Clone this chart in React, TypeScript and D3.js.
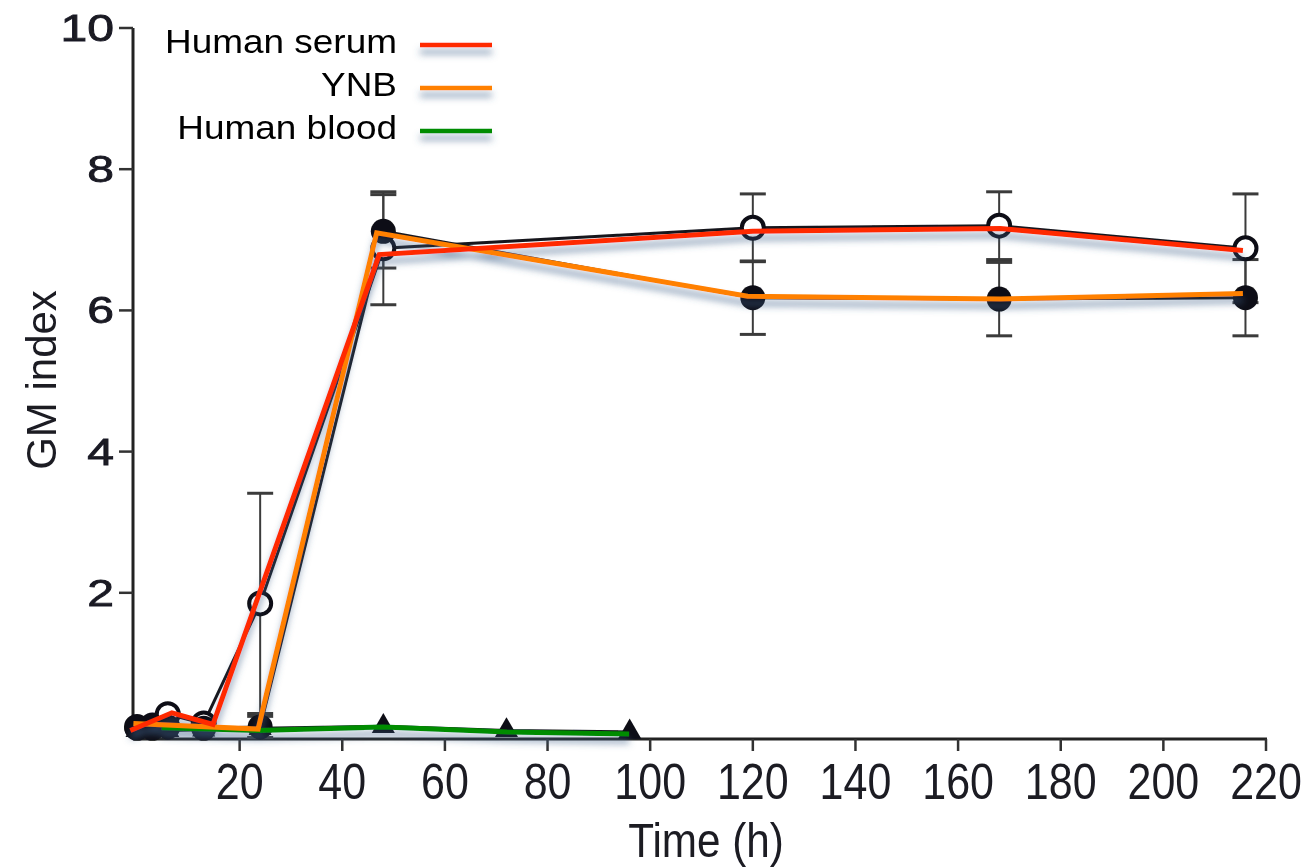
import * as d3 from 'd3'
import { useEffect, useRef } from 'react'

// original black series (markers + error bars)
const serumTime = [0, 3, 6, 13, 24, 48, 120, 168, 216]
const serumMean = [0.1, 0.12, 0.28, 0.15, 1.85, 6.88, 7.17, 7.2, 6.88]
const serumErr = [0, 0, 0, 0, 1.56, 0.8, 0.48, 0.48, 0.77]

const ynbTime = [0, 3, 6, 13, 24, 48, 120, 168, 216]
const ynbMean = [0.08, 0.08, 0.1, 0.08, 0.1, 7.12, 6.18, 6.16, 6.18]
const ynbErr = [0, 0, 0, 0, 0.15, 0.52, 0.52, 0.52, 0.54]

const bloodTime = [0, 3, 6, 13, 24, 48, 72, 96]
const bloodMean = [0.05, 0.05, 0.05, 0.06, 0.08, 0.11, 0.05, 0.03]

// coloured overlay lines
const redTime = [-1.3, 6.8, 14.8, 47.2, 120, 168.2, 215.5]
const redVal = [0.05, 0.3, 0.135, 6.79, 7.12, 7.16, 6.85]
const orangeTime = [-0.7, 23.6, 46.7, 119, 168.2, 215.5]
const orangeVal = [0.15, 0.07, 7.1, 6.2, 6.16, 6.24]
const greenTime = [4.8, 23.6, 48, 72.1, 95.9]
const greenVal = [0.09, 0.05, 0.1, 0.03, 0.0]

const xTicks = [20, 40, 60, 80, 100, 120, 140, 160, 180, 200, 220]
const yTicks = [2, 4, 6, 8, 10]

const legendNames = ['Human serum', 'YNB', 'Human blood']
const legendColors = ['#ff2a00', '#ff8000', '#008c00']

const FONT = 'Liberation Sans, Arial, Helvetica, sans-serif'

export default function App() {
    const svgRef = useRef<SVGSVGElement>(null)

    useEffect(() => {
        const w = 1312
        const h = 868
        const svg = d3.select(svgRef.current)
        svg.selectAll('*').remove()
        svg.attr('width', w).attr('height', h).style('background', '#fff')

        const x = d3.scaleLinear().domain([0, 220]).range([137, 1266])
        const y = d3.scaleLinear().domain([0, 10]).range([734, 28])
        const axisX = 133
        const axisY = 739

        const defs = svg.append('defs')
        const sh = defs.append('filter').attr('id', 'shadow')
            .attr('filterUnits', 'userSpaceOnUse')
            .attr('x', 0).attr('y', 0).attr('width', w).attr('height', h)
        sh.append('feGaussianBlur').attr('in', 'SourceAlpha').attr('stdDeviation', 3.5).attr('result', 'b')
        sh.append('feOffset').attr('in', 'b').attr('dy', 7).attr('result', 'o')
        sh.append('feFlood').attr('flood-color', '#3f6189').attr('flood-opacity', 0.6).attr('result', 'c')
        sh.append('feComposite').attr('in', 'c').attr('in2', 'o').attr('operator', 'in').attr('result', 's')
        const m = sh.append('feMerge')
        m.append('feMergeNode').attr('in', 's')
        m.append('feMergeNode').attr('in', 'SourceGraphic')

        const soft = defs.append('filter').attr('id', 'soft')
            .attr('filterUnits', 'userSpaceOnUse')
            .attr('x', 0).attr('y', 0).attr('width', w).attr('height', h)
        soft.append('feGaussianBlur').attr('stdDeviation', 0.7)

        // axes
        const ax = svg.append('g').attr('filter', 'url(#soft)')
        ax.append('line').attr('x1', axisX).attr('x2', axisX).attr('y1', y(10)).attr('y2', axisY)
            .attr('stroke', '#222').attr('stroke-width', 3)
        ax.append('line').attr('x1', axisX).attr('x2', x(220) + 1).attr('y1', axisY).attr('y2', axisY)
            .attr('stroke', '#222').attr('stroke-width', 3)

        ax.selectAll('.yt').data(yTicks).join('line')
            .attr('x1', axisX - 14).attr('x2', axisX)
            .attr('y1', d => y(d)).attr('y2', d => y(d))
            .attr('stroke', '#333').attr('stroke-width', 2.5)
        ax.selectAll('.yl').data(yTicks).join('text')
            .attr('transform', d => `translate(114, ${y(d) + 13}) scale(1.3, 1)`)
            .attr('text-anchor', 'end')
            .attr('font-family', FONT).attr('font-size', 37)
            .attr('fill', '#1a1a24').attr('stroke', '#1a1a24').attr('stroke-width', 0.8)
            .text(d => d)

        ax.selectAll('.xt').data(xTicks).join('line')
            .attr('x1', d => x(d)).attr('x2', d => x(d))
            .attr('y1', axisY).attr('y2', axisY + 12)
            .attr('stroke', '#333').attr('stroke-width', 2.5)
        ax.selectAll('.xl').data(xTicks).join('text')
            .attr('transform', d => `translate(${x(d)}, 799) scale(0.86, 1)`)
            .attr('text-anchor', 'middle')
            .attr('font-family', FONT).attr('font-size', 50)
            .attr('fill', '#1a1a24')
            .text(d => d)

        ax.append('text').attr('transform', 'translate(706, 857) scale(0.88, 1)')
            .attr('text-anchor', 'middle')
            .attr('font-family', FONT).attr('font-size', 48).attr('fill', '#1a1a24')
            .text('Time (h)')
        ax.append('text').attr('transform', 'translate(56, 380) rotate(-90)')
            .attr('text-anchor', 'middle')
            .attr('font-family', FONT).attr('font-size', 42).attr('fill', '#1a1a24')
            .text('GM index')

        // black series
        const blk = svg.append('g').attr('filter', 'url(#soft)')
        const serum = serumTime.map((t, i) => ({ t, v: serumMean[i], e: serumErr[i] }))
        const ynb = ynbTime.map((t, i) => ({ t, v: ynbMean[i], e: ynbErr[i] }))
        const blood = bloodTime.map((t, i) => ({ t, v: bloodMean[i] }))

        const errs = [...serum, ...ynb].filter(d => d.e > 0)
        blk.selectAll('.eb').data(errs).join('line')
            .attr('x1', d => x(d.t)).attr('x2', d => x(d.t))
            .attr('y1', d => y(d.v - d.e)).attr('y2', d => y(d.v + d.e))
            .attr('stroke', '#3a3a3a').attr('stroke-width', 2)
        const caps = errs.flatMap(d => [{ t: d.t, v: d.v - d.e }, { t: d.t, v: d.v + d.e }])
        blk.selectAll('.cap').data(caps).join('line')
            .attr('x1', d => x(d.t) - 13).attr('x2', d => x(d.t) + 13)
            .attr('y1', d => y(d.v)).attr('y2', d => y(d.v))
            .attr('stroke', '#3a3a3a').attr('stroke-width', 3)

        const line = d3.line<{ t: number, v: number }>().x(d => x(d.t)).y(d => y(d.v))
        ;[serum, ynb, blood].forEach(s => {
            blk.append('path').datum(s).attr('d', line)
                .attr('fill', 'none').attr('stroke', '#15151c').attr('stroke-width', 3)
        })

        blk.selectAll('.oc').data(serum).join('circle')
            .attr('cx', d => x(d.t)).attr('cy', d => y(d.v)).attr('r', 11)
            .attr('fill', '#fff').attr('stroke', '#0d0d14').attr('stroke-width', 4)
        blk.selectAll('.tri').data(blood).join('path')
            .attr('transform', d => `translate(${x(d.t)}, ${y(d.v)})`)
            .attr('d', d3.symbol(d3.symbolTriangle, 230)())
            .attr('fill', '#0d0d14')
        blk.selectAll('.fc').data(ynb).join('circle')
            .attr('cx', d => x(d.t)).attr('cy', d => y(d.v)).attr('r', 12.5)
            .attr('fill', '#0d0d14')

        // coloured overlay
        const over = svg.append('g').attr('filter', 'url(#shadow)')
        const series = [
            redTime.map((t, i) => ({ t, v: redVal[i] })),
            orangeTime.map((t, i) => ({ t, v: orangeVal[i] })),
            greenTime.map((t, i) => ({ t, v: greenVal[i] })),
        ]
        ;[2, 1, 0].forEach(k => {
            over.append('path').datum(series[k]).attr('d', line)
                .attr('fill', 'none').attr('stroke', legendColors[k])
                .attr('stroke-width', 5).attr('stroke-linejoin', 'miter')
        })

        // legend
        const lg = svg.append('g')
        const rows = [53, 96, 139]
        const lineY = [45, 88, 131]
        legendNames.forEach((name, i) => {
            lg.append('text')
                .attr('transform', `translate(397, ${rows[i]}) scale(1.12, 1)`)
                .attr('text-anchor', 'end')
                .attr('font-family', FONT).attr('font-size', 33).attr('fill', '#000')
                .text(name)
            lg.append('line').attr('x1', 420).attr('x2', 492)
                .attr('y1', lineY[i]).attr('y2', lineY[i])
                .attr('stroke', legendColors[i]).attr('stroke-width', 4.5)
                .attr('filter', 'url(#shadow)')
        })
    }, [])

    return (
        <div style={{ position: 'absolute', left: 0, top: 0 }}>
            <svg ref={svgRef} />
        </div>
    )
}
